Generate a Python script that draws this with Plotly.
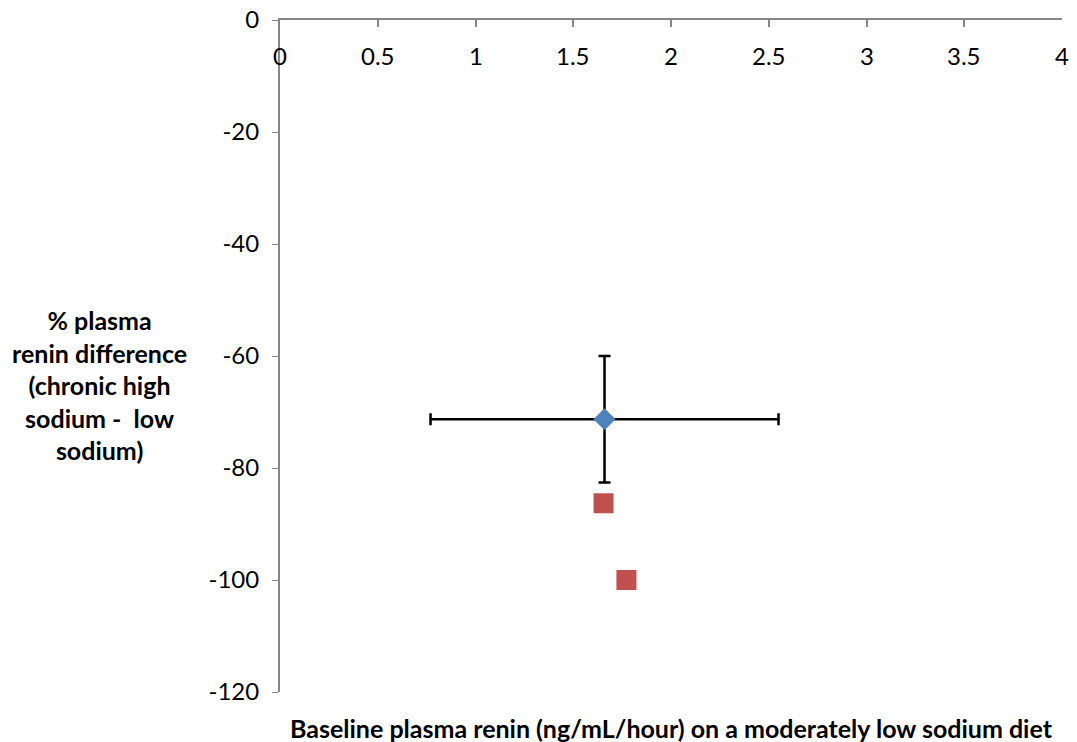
import plotly.graph_objects as go

# Data
mean_x = [1.66]
mean_y = [-71.3]
mean_x_err = [0.89]
mean_y_err = [11.3]

ind_x = [1.655, 1.772]
ind_y = [-86.3, -100.0]

x_ticks = [0, 0.5, 1, 1.5, 2, 2.5, 3, 3.5, 4]
x_tick_text = ["0", "0.5", "1", "1.5", "2", "2.5", "3", "3.5", "4"]
y_ticks = [0, -20, -40, -60, -80, -100, -120]
y_tick_text = ["0", "-20", "-40", "-60", "-80", "-100", "-120"]

x_title = "Baseline plasma renin (ng/mL/hour) on a moderately low sodium diet"
y_title = "% plasma<br>renin difference<br>(chronic high<br>sodium -  low<br>sodium)"

FONT = "Lato"
AXIS_COLOR = "#868686"
TICK_SIZE = 24
TITLE_SIZE = 25

fig = go.Figure()

fig.add_trace(go.Scatter(
    x=mean_x, y=mean_y, mode="markers",
    marker=dict(symbol="diamond", size=17, color="#4F81BD"),
    error_x=dict(type="data", array=mean_x_err, color="black", thickness=2.5, width=6),
    error_y=dict(type="data", array=mean_y_err, color="black", thickness=2.5, width=6),
    showlegend=False,
))

fig.add_trace(go.Scatter(
    x=ind_x, y=ind_y, mode="markers",
    marker=dict(symbol="square", size=20, color="#C0504D"),
    showlegend=False,
))

annotations = []
# x tick labels placed just below the axis line at y = 0
for v, t in zip(x_ticks, x_tick_text):
    annotations.append(dict(
        text=t, x=v, y=0, xref="x", yref="y", yshift=-35,
        xanchor="center", yanchor="middle", showarrow=False,
        font=dict(family=FONT, size=TICK_SIZE, color="black")))

annotations.append(dict(
    text="<b>" + x_title + "</b>", xref="paper", yref="paper",
    x=0.5, y=-0.0536, xanchor="center", yanchor="middle", showarrow=False,
    font=dict(family=FONT, size=TITLE_SIZE, color="black")))
annotations.append(dict(
    text="<b>" + y_title + "</b>", xref="paper", yref="paper",
    x=-0.231, y=0.457, xanchor="center", yanchor="middle", showarrow=False,
    align="center", font=dict(family=FONT, size=TITLE_SIZE, color="black")))

fig.update_layout(
    width=1077, height=742,
    margin=dict(l=280, r=15, t=20, b=50, autoexpand=False),
    paper_bgcolor="white", plot_bgcolor="white",
    font=dict(family=FONT, size=TICK_SIZE, color="black"),
    xaxis=dict(
        range=[0, 4], side="top", tickvals=x_ticks, automargin=False,
        ticks="inside", ticklen=7, tickcolor=AXIS_COLOR, tickwidth=2,
        showticklabels=False, showline=True, linecolor=AXIS_COLOR, linewidth=2,
        showgrid=False, zeroline=False,
    ),
    yaxis=dict(
        range=[-120, 0], tickvals=y_ticks, ticktext=y_tick_text, automargin=False,
        ticks="outside", ticklen=6, tickcolor=AXIS_COLOR, tickwidth=1,
        ticklabelstandoff=8,
        showline=True, linecolor=AXIS_COLOR, linewidth=2,
        showgrid=False, zeroline=False,
        tickfont=dict(family=FONT, size=TICK_SIZE, color="black"),
    ),
    annotations=annotations,
)

fig.write_html("out.html")
